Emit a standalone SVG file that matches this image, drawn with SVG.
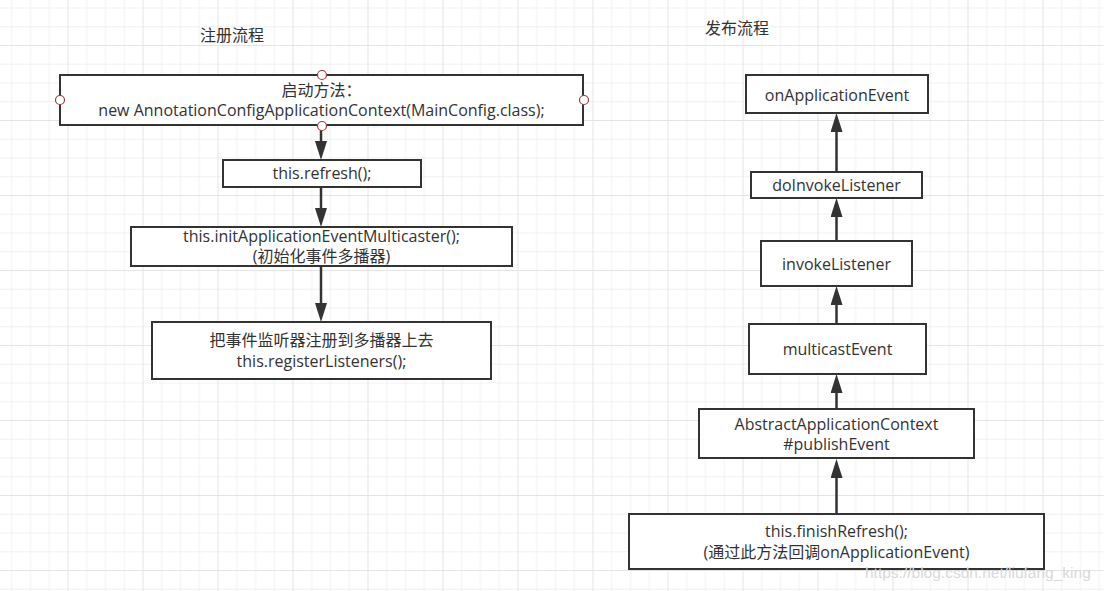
<svg xmlns="http://www.w3.org/2000/svg" width="1104" height="591" viewBox="0 0 1104 591">
<style>
.box{fill:#fff;stroke:#333;stroke-width:2}
.t{font-family:"Open Sans","Noto Sans CJK SC",sans-serif;font-size:16px;fill:#333;text-anchor:middle}
.title{font-family:"Noto Sans CJK SC",sans-serif;font-size:16px;fill:#333}
.conn{stroke:#333;stroke-width:2.5;fill:none;marker-end:url(#arr)}
.pt{fill:#fff;stroke:#9a3b3b;stroke-width:1.2}
.wm{font-family:"Liberation Sans",Arial,sans-serif;font-size:15.5px;fill:#d9d9d9}
</style>
<defs>
<pattern id="grid" x="-7.5" y="-30" width="75" height="75" patternUnits="userSpaceOnUse">
<rect x="0" y="0" width="75" height="75" fill="#fff"/>
<rect x="18.75" y="0" width="1" height="75" fill="#f1f1f1"/>
<rect x="37.5" y="0" width="1" height="75" fill="#f1f1f1"/>
<rect x="56.25" y="0" width="1" height="75" fill="#f1f1f1"/>
<rect x="0" y="18.75" width="75" height="1" fill="#f1f1f1"/>
<rect x="0" y="37.5" width="75" height="1" fill="#f1f1f1"/>
<rect x="0" y="56.25" width="75" height="1" fill="#f1f1f1"/>
<rect x="0" y="0" width="1" height="75" fill="#e4e4e4"/>
<rect x="0" y="0" width="75" height="1" fill="#e4e4e4"/>
</pattern>
<marker id="arr" viewBox="0 0 19 12" refX="11" refY="6" markerWidth="19" markerHeight="12" orient="auto" markerUnits="userSpaceOnUse">
<path d="M0,0 L19,6 L0,12 Z" fill="#333"/>
</marker>
</defs>
<rect width="1104" height="591" fill="url(#grid)"/>

<text class="title" x="200" y="41">注册流程</text>
<text class="title" x="705" y="34">发布流程</text>

<g id="connectors">
<line class="conn" x1="321" y1="127" x2="321" y2="152"/>
<line class="conn" x1="321" y1="188" x2="321" y2="219"/>
<line class="conn" x1="321" y1="267" x2="321" y2="314"/>
<line class="conn" x1="836.5" y1="513" x2="836.5" y2="467"/>
<line class="conn" x1="836.5" y1="408" x2="836.5" y2="382"/>
<line class="conn" x1="836.5" y1="323" x2="836.5" y2="294"/>
<line class="conn" x1="836.5" y1="240" x2="836.5" y2="206"/>
<line class="conn" x1="836.5" y1="171" x2="836.5" y2="121"/>
</g>

<g id="start">
<rect class="box" x="60" y="75" width="523" height="50"/>
<text class="t" x="321.5" y="96">启动方法：</text>
<text class="t" x="321.5" y="116">new AnnotationConfigApplicationContext(MainConfig.class);</text>
<circle class="pt" cx="322" cy="75" r="4.5"/>
<circle class="pt" cx="60" cy="100" r="4.5"/>
<circle class="pt" cx="584" cy="100" r="4.5"/>
<circle class="pt" cx="322" cy="126" r="4.5"/>
</g>

<g id="refresh">
<rect class="box" x="223" y="160" width="198" height="27"/>
<text class="t" x="322" y="179">this.refresh();</text>
</g>

<g id="initMulticaster">
<rect class="box" x="131" y="227" width="381" height="39"/>
<text class="t" x="321.5" y="241.5">this.initApplicationEventMulticaster();</text>
<text class="t" x="321.5" y="262">(初始化事件多播器)</text>
</g>

<g id="registerListeners">
<rect class="box" x="152" y="322" width="339" height="57"/>
<text class="t" x="321.5" y="346">把事件监听器注册到多播器上去</text>
<text class="t" x="321.5" y="366.5">this.registerListeners();</text>
</g>

<g id="onApplicationEvent">
<rect class="box" x="746" y="75" width="182" height="38"/>
<text class="t" x="837" y="100.5">onApplicationEvent</text>
</g>

<g id="doInvokeListener">
<rect class="box" x="751" y="172" width="171" height="26"/>
<text class="t" x="836.5" y="190.5">doInvokeListener</text>
</g>

<g id="invokeListener">
<rect class="box" x="761" y="241" width="151" height="45"/>
<text class="t" x="836.5" y="270">invokeListener</text>
</g>

<g id="multicastEvent">
<rect class="box" x="749" y="324" width="177" height="50"/>
<text class="t" x="837.5" y="355">multicastEvent</text>
</g>

<g id="publishEvent">
<rect class="box" x="699" y="409" width="275" height="49"/>
<text class="t" x="836.5" y="429.5">AbstractApplicationContext</text>
<text class="t" x="836.5" y="449.5">#publishEvent</text>
</g>

<g id="finishRefresh">
<rect class="box" x="629" y="514" width="415" height="55"/>
<text class="t" x="836.5" y="537">this.finishRefresh();</text>
<text class="t" x="836.5" y="557.5">(通过此方法回调onApplicationEvent)</text>
</g>

<text class="wm" x="865" y="578">https://blog.csdn.net/liufang_king</text>
</svg>
